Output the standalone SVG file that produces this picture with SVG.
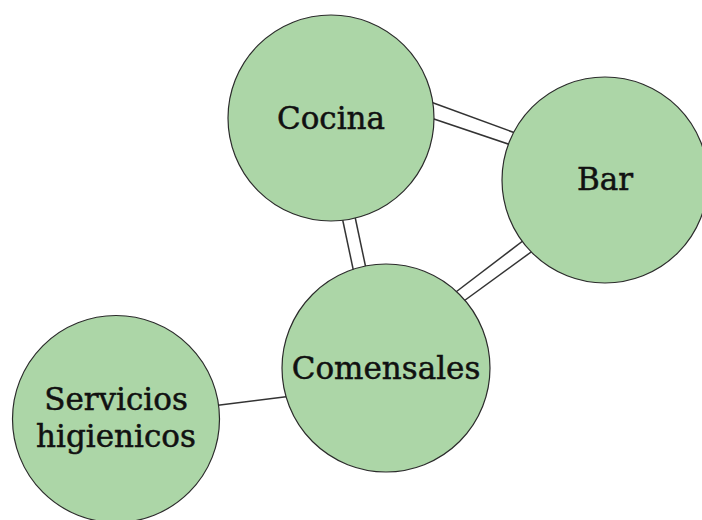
<svg xmlns="http://www.w3.org/2000/svg" width="702" height="520" viewBox="0 0 702 520">
<style>
.c{fill:#acd6a7;stroke:#2b2b2b;stroke-width:1.2}
.t{font-family:"DejaVu Serif","Liberation Serif",serif;font-size:31px;fill:#111;stroke:#111;stroke-width:0.5;text-anchor:middle}
.l{stroke:#333;stroke-width:1.5;fill:none}
</style>
<rect width="702" height="520" fill="#fff"/>
<g id="connectors">
<line class="l" x1="428" y1="101" x2="518" y2="134"/>
<line class="l" x1="428" y1="117" x2="514" y2="146"/>
<line class="l" x1="341" y1="212" x2="355" y2="278"/>
<line class="l" x1="354" y1="212" x2="368" y2="278"/>
<line class="l" x1="528" y1="237" x2="448" y2="298"/>
<line class="l" x1="538" y1="247" x2="457" y2="306"/>
<line class="l" x1="212" y1="406" x2="292" y2="396"/>
</g>
<g id="cocina">
<circle class="c" cx="331" cy="118" r="103"/>
<text class="t" x="331" y="129">Cocina</text>
</g>
<g id="bar">
<circle class="c" cx="605" cy="180" r="103"/>
<text class="t" x="605" y="190">Bar</text>
</g>
<g id="comensales">
<circle class="c" cx="386" cy="368" r="104"/>
<text class="t" x="386" y="379">Comensales</text>
</g>
<g id="servicios">
<circle class="c" cx="116" cy="419" r="103.5"/>
<text class="t" x="116" y="410">Servicios</text>
<text class="t" x="116" y="447">higienicos</text>
</g>
</svg>
